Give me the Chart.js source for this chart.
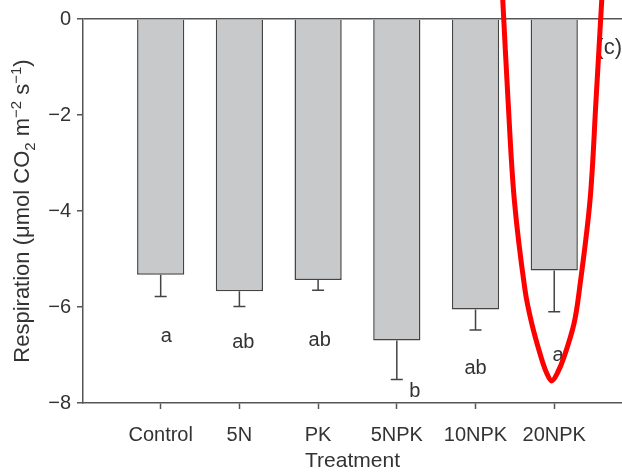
<!DOCTYPE html>
<html>
<head>
<meta charset="utf-8">
<script src="https://cdn.jsdelivr.net/npm/chart.js@4"></script>
<style>
  html, body { margin: 0; padding: 0; background: #fff; }
  #wrap { width: 622px; height: 472px; position: relative; }
</style>
</head>
<body>
<div id="wrap"><canvas id="chart"></canvas></div>
<script>
// Treatments and mean respiration
const categories = ['Control', '5N', 'PK', '5NPK', '10NPK', '20NPK'];
const respiration = [-5.33, -5.67, -5.44, -6.70, -6.05, -5.24];
// standard error (lower whisker length)
const stdErr = [0.45, 0.32, 0.21, 0.81, 0.43, 0.86];
const yTicks = [0, -2, -4, -6, -8];

// significance letters and where they sit (data units)
const letters = ['a', 'ab', 'ab', 'b', 'ab', 'a'];
const letterX = [0.07, 0.05, 0.02, 0.23, 0.0, 0.05];
const letterY = [-6.72, -6.86, -6.81, -7.87, -7.40, -7.12];

// red hand-drawn highlight round the 20NPK bar
const markX = [4.346, 4.413, 4.493, 4.629, 4.714, 4.832, 4.905, 4.968, 5.039, 5.125, 5.252, 5.319, 5.455, 5.531, 5.604];
const markY = [0.40, -1.69, -3.77, -5.65, -6.34, -7.04, -7.38, -7.54, -7.38, -7.04, -6.34, -5.65, -3.77, -1.69, 0.40];

const FONT = '"Liberation Sans", Arial, Helvetica, sans-serif';
const AXIS = '#555';
const TEXT = '#333';

// y title with real sub/superscripts: [text, size, shift]
const yTitleParts = [
  ['Respiration (\u03bcmol CO', 22, 0],
  ['2', 15, 6],
  [' m', 22, 0],
  ['\u22122', 15, -8],
  [' s', 22, 0],
  ['\u22121', 15, -8],
  [')', 22, 0]
];

function drawVerticalTitle(ctx, parts, cx, cy) {
  ctx.save();
  ctx.translate(cx, cy);
  ctx.rotate(-Math.PI / 2);
  ctx.fillStyle = TEXT;
  ctx.textBaseline = 'alphabetic';
  ctx.textAlign = 'left';
  let total = 0;
  parts.forEach(p => { ctx.font = p[1] + 'px ' + FONT; total += ctx.measureText(p[0]).width; });
  let x = -total / 2;
  parts.forEach(p => {
    ctx.font = p[1] + 'px ' + FONT;
    ctx.fillText(p[0], x, 7 + p[2]);
    x += ctx.measureText(p[0]).width;
  });
  ctx.restore();
}

const extras = {
  id: 'extras',
  afterDatasetDraw(chart, args) {
    if (args.index !== 1) return;
    const ctx = chart.ctx;
    const x = chart.scales.x, y = chart.scales.y;
    ctx.save();
    // error bars
    ctx.strokeStyle = '#444';
    ctx.lineWidth = 1.5;
    respiration.forEach((v, i) => {
      const px = x.getPixelForValue(i);
      const top = y.getPixelForValue(v);
      const bot = y.getPixelForValue(v - stdErr[i]);
      ctx.beginPath();
      ctx.moveTo(px, top);
      ctx.lineTo(px, bot);
      ctx.moveTo(px - 6, bot);
      ctx.lineTo(px + 6, bot);
      ctx.stroke();
    });
    // letters
    ctx.fillStyle = TEXT;
    ctx.font = '20px ' + FONT;
    ctx.textAlign = 'center';
    ctx.textBaseline = 'alphabetic';
    letters.forEach((t, i) => {
      ctx.fillText(t, x.getPixelForValue(i + letterX[i]), y.getPixelForValue(letterY[i]));
    });
    // panel tag
    ctx.font = '22px ' + FONT;
    ctx.textAlign = 'right';
    ctx.textBaseline = 'middle';
    ctx.fillText('(c)', 622, 48);
    ctx.restore();
  },
  afterDraw(chart) {
    const y = chart.scales.y;
    drawVerticalTitle(chart.ctx, yTitleParts, 22, (y.top + y.bottom) / 2);
  }
};

new Chart(document.getElementById('chart'), {
  type: 'bar',
  data: {
    datasets: [
      {
        type: 'line',
        data: markX.map((v, i) => ({ x: v, y: markY[i] })),
        borderColor: '#ff0000',
        borderWidth: 5,
        pointRadius: 0,
        tension: 0.35,
        fill: false,
        clip: false,
        order: 0
      },
      {
        data: respiration.map((v, i) => ({ x: i, y: v })),
        backgroundColor: '#c8c9cb',
        borderColor: '#444',
        borderWidth: 1.5,
        categoryPercentage: 1,
        barPercentage: 0.6,
        order: 1
      }
    ]
  },
  options: {
    responsive: true,
    maintainAspectRatio: false,
    animation: false,
    layout: { padding: { top: 19, right: 0, left: 0, bottom: 0 } },
    plugins: { legend: { display: false }, tooltip: { enabled: false } },
    scales: {
      x: {
        type: 'linear',
        offset: false,
        min: -0.987,
        max: 5.861,
        afterBuildTicks: s => { s.ticks = categories.map((c, i) => ({ value: i })); },
        afterFit: s => { s.height = 69; },
        ticks: {
          callback: v => categories[v],
          color: TEXT,
          font: { family: FONT, size: 20 },
          padding: 14,
          maxRotation: 0,
          autoSkip: false
        },
        grid: { offset: false, drawOnChartArea: false, tickLength: 6, tickColor: AXIS, tickWidth: 1.5 },
        border: { color: AXIS, width: 1.5 },
        title: {
          display: true,
          text: 'Treatment',
          color: TEXT,
          font: { family: FONT, size: 21 },
          padding: { top: 0, bottom: -2 }
        }
      },
      y: {
        min: -8,
        max: 0,
        afterBuildTicks: s => { s.ticks = yTicks.map(v => ({ value: v })); },
        afterFit: s => { s.width = 83; },
        ticks: {
          callback: v => String(v).replace('-', '\u2212'),
          color: TEXT,
          font: { family: FONT, size: 20 },
          padding: 6
        },
        grid: {
          color: c => (c.tick && c.tick.value === 0) ? AXIS : 'transparent',
          lineWidth: 1.5,
          tickLength: 6,
          tickColor: AXIS,
          tickWidth: 1.5
        },
        border: { color: AXIS, width: 1.5 },
        title: { display: false }
      }
    }
  },
  plugins: [extras]
});
</script>
</body>
</html>
